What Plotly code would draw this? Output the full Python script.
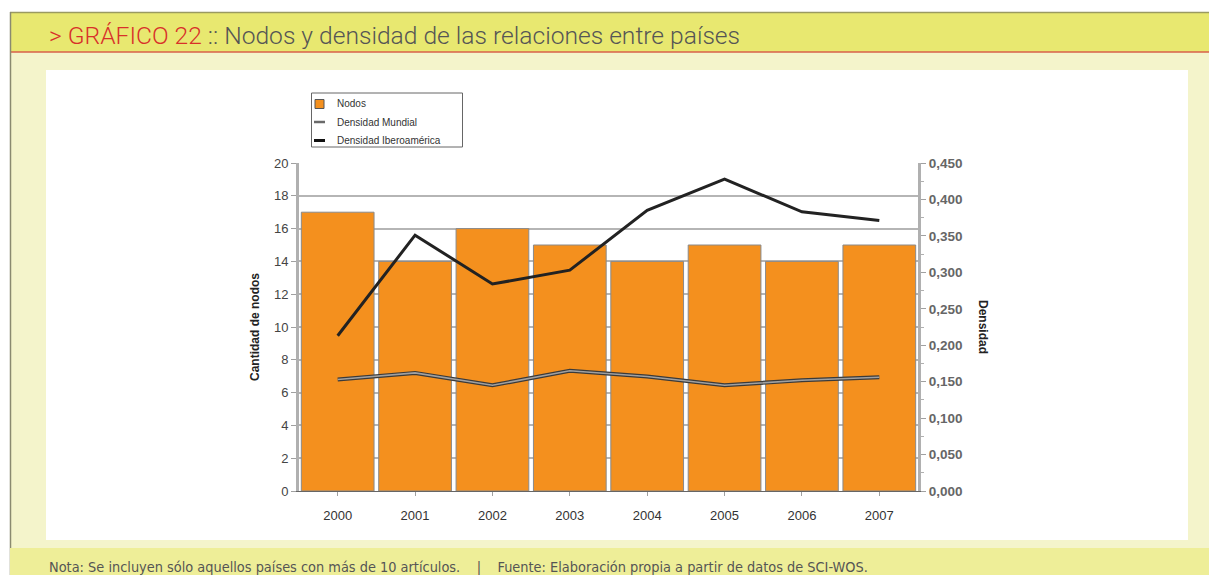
import plotly.graph_objects as go

years = ["2000", "2001", "2002", "2003", "2004", "2005", "2006", "2007"]
nodos = [17, 14, 16, 15, 14, 15, 14, 15]
dens_mundial = [0.153, 0.162, 0.145, 0.165, 0.157, 0.145, 0.152, 0.156]
dens_ibero = [0.213, 0.351, 0.284, 0.303, 0.385, 0.428, 0.383, 0.371]
legend_labels = ["Nodos", "Densidad Mundial", "Densidad Iberoamérica"]

ORANGE = "#F4901E"
W, H = 1209, 575
def px(x): return x / W
def py(y): return 1 - y / H

fig = go.Figure()
fig.add_trace(go.Bar(x=years, y=nodos, name=legend_labels[0],
                     marker=dict(color=ORANGE, line=dict(color="#8a8a8a", width=1)),
                     yaxis="y", showlegend=False))
fig.add_trace(go.Scatter(x=years, y=dens_mundial, mode="lines", yaxis="y2",
                         line=dict(color="#3a3a3a", width=4), showlegend=False, hoverinfo="skip"))
fig.add_trace(go.Scatter(x=years, y=dens_mundial, mode="lines", yaxis="y2",
                         name=legend_labels[1], line=dict(color="#a0a0a0", width=1.6), showlegend=False))
fig.add_trace(go.Scatter(x=years, y=dens_ibero, mode="lines", yaxis="y2",
                         name=legend_labels[2], line=dict(color="#222222", width=3), showlegend=False))

shapes = [
    dict(type="rect", xref="paper", yref="paper", x0=px(10), x1=1.01, y0=py(580), y1=py(52),
         fillcolor="#F4F4CB", line=dict(width=0), layer="below"),
    dict(type="rect", xref="paper", yref="paper", x0=px(10), x1=1.01, y0=py(52), y1=py(12),
         fillcolor="#E8E870", line=dict(width=0), layer="below"),
    dict(type="line", xref="paper", yref="paper", x0=px(10), x1=1.01, y0=py(12.5), y1=py(12.5),
         line=dict(color="#9a9a60", width=1.5), layer="below"),
    dict(type="line", xref="paper", yref="paper", x0=px(10), x1=1.01, y0=py(52), y1=py(52),
         line=dict(color="#D9604A", width=1.5), layer="below"),
    dict(type="line", xref="paper", yref="paper", x0=px(10.5), x1=px(10.5), y0=py(580), y1=py(12),
         line=dict(color="#8a8a70", width=1.5), layer="below"),
    dict(type="rect", xref="paper", yref="paper", x0=px(46), x1=px(1188), y0=py(540), y1=py(70),
         fillcolor="#FFFFFF", line=dict(width=0), layer="below"),
    dict(type="rect", xref="paper", yref="paper", x0=px(10), x1=1.01, y0=py(580), y1=py(548),
         fillcolor="#EEEE98", line=dict(width=0), layer="below"),
    # legend box
    dict(type="rect", xref="paper", yref="paper", x0=px(311.5), x1=px(462.5), y0=py(147), y1=py(93),
         fillcolor="#FFFFFF", line=dict(color="#666666", width=1)),
    # legend symbols
    dict(type="rect", xref="paper", yref="paper", x0=px(315), x1=px(324), y0=py(108.5), y1=py(99.5),
         fillcolor=ORANGE, line=dict(color="#555555", width=1)),
    dict(type="line", xref="paper", yref="paper", x0=px(314), x1=px(325), y0=py(122), y1=py(122),
         line=dict(color="#6a6a6a", width=2.5)),
    dict(type="line", xref="paper", yref="paper", x0=px(314), x1=px(325), y0=py(140.5), y1=py(140.5),
         line=dict(color="#111111", width=3)),
]

annotations = [
    dict(x=px(47), y=py(36), xref="paper", yref="paper", xanchor="left", yanchor="middle",
         showarrow=False,
         text="<span style='color:#D8302A'>&gt; GRÁFICO 22</span> <span style='color:#555555'>:: Nodos y densidad de las relaciones entre países</span>",
         font=dict(family="Roboto", size=24.6, weight=300)),
    dict(x=px(47), y=py(567), xref="paper", yref="paper", xanchor="left", yanchor="middle",
         showarrow=False,
         text="Nota: Se incluyen sólo aquellos países con más de 10 artículos.    |    Fuente: Elaboración propia a partir de datos de SCI-WOS.",
         font=dict(family="DejaVu Sans Condensed, Roboto", size=14.4, color="#555555")),
    dict(x=px(983), y=py(327), xref="paper", yref="paper", xanchor="center", yanchor="middle",
         showarrow=False, text="<b>Densidad</b>", textangle=90,
         font=dict(family="Liberation Sans, Arial", size=12, color="#222222")),
]
for lbl, yy in zip(legend_labels, [104, 122, 140.5]):
    annotations.append(dict(x=px(335), y=py(yy), xref="paper", yref="paper", xanchor="left",
                            yanchor="middle", showarrow=False, text=lbl,
                            font=dict(family="Liberation Sans, Arial", size=10, color="#333333")))

fig.update_layout(
    width=W, height=H, autosize=False,
    margin=dict(l=0, r=0, t=0, b=0, autoexpand=False),
    paper_bgcolor="#FFFFFF", plot_bgcolor="#FFFFFF",
    separators=",.",
    bargap=0.06,
    showlegend=False,
    font=dict(family="Liberation Sans, Arial", color="#333333"),
    xaxis=dict(domain=[px(299), px(918)], type="category", showgrid=False,
               ticks="outside", ticklen=4, tickcolor="#a0a0a0", ticklabelstandoff=8,
               tickfont=dict(size=13, color="#333333"),
               showline=True, linecolor="#666666", linewidth=1, automargin=False),
    yaxis=dict(domain=[py(491), py(163)], range=[0, 20], dtick=2,
               showgrid=True, gridcolor="#b5b5b5", gridwidth=1.5,
               showline=True, linecolor="#b0b0b0", linewidth=3,
               ticks="outside", ticklen=5, tickcolor="#a0a0a0",
               tickfont=dict(size=13, color="#444444"),
               zeroline=False, automargin=False,
               title=dict(text="<b>Cantidad de nodos</b>", font=dict(size=12, color="#222222"), standoff=12)),
    yaxis2=dict(overlaying="y", side="right", range=[0, 0.45], dtick=0.05, tickformat=".3f",
                showgrid=False, showline=True, linecolor="#b0b0b0", linewidth=3,
                ticks="outside", ticklen=5, tickcolor="#a0a0a0",
                minor=dict(ticks="outside", ticklen=3, tickcolor="#b0b0b0", dtick=0.025),
                tickfont=dict(size=13.5, color="#666666", family="Liberation Sans, Arial", weight="bold"),
                zeroline=False, anchor="x", automargin=False),
    shapes=shapes, annotations=annotations,
)

fig.write_html("out.html", config={"displayModeBar": False},
               post_script="document.body.style.margin='0';document.body.style.overflow='hidden';")
